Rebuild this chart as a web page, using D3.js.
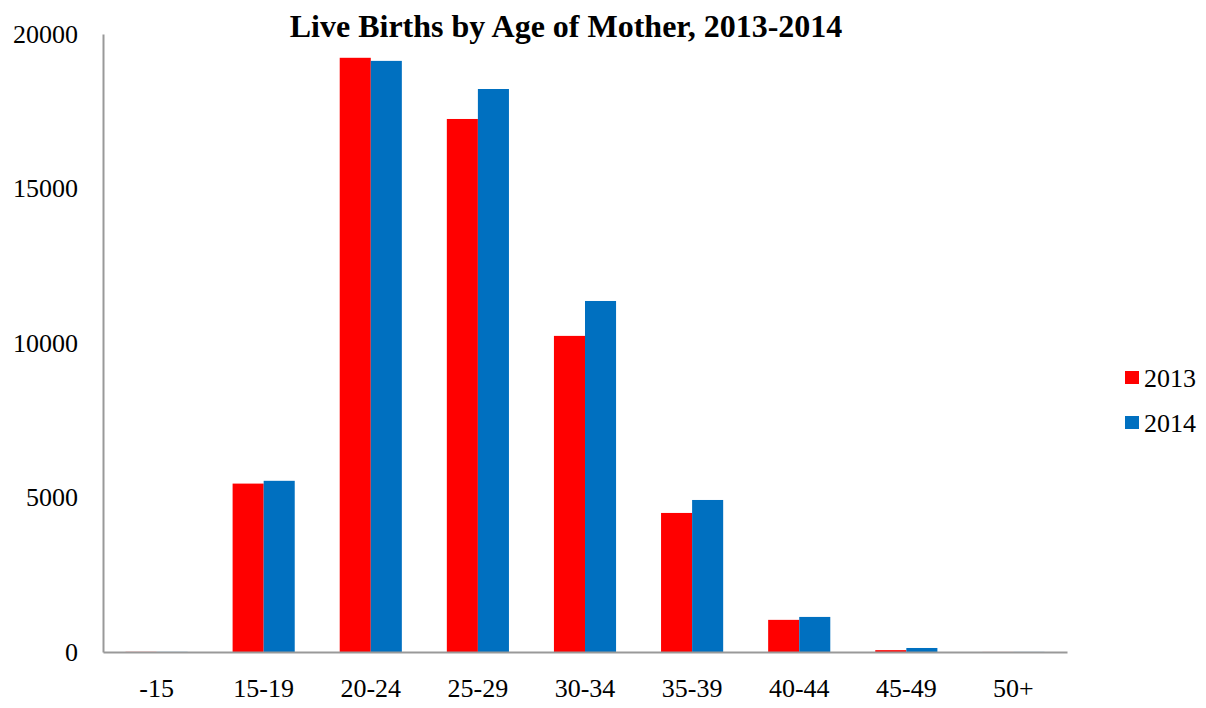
<!DOCTYPE html>
<html><head><meta charset="utf-8">
<script src="https://cdn.jsdelivr.net/npm/d3@7"></script>
<style>body{margin:0;background:#fff}svg{display:block}text{font-family:"Liberation Serif","Times New Roman",serif}</style>
</head><body>
<svg id="c" width="1206" height="708"></svg>
<script>
const categories = ["-15","15-19","20-24","25-29","30-34","35-39","40-44","45-49","50+"];
const series2013 = [5, 5450, 19230, 17250, 10230, 4500, 1040, 60, 2];
const series2014 = [4, 5540, 19130, 18220, 11360, 4920, 1135, 130, 3];
const seriesNames = ["2013","2014"];
const colors = ["#FF0000","#0070C0"];
const yTicks = [0, 5000, 10000, 15000, 20000];

const svg = d3.select("#c");
const mLeft = 103, mRight = 1067, mTop = 34, mBottom = 652;
const x = d3.scaleBand().domain(categories).range([mLeft, mRight]).paddingInner(0.42).paddingOuter(0.21);
const xs = d3.scaleBand().domain(seriesNames).range([0, x.bandwidth()]);
const y = d3.scaleLinear().domain([0, 20000]).range([mBottom, mTop]);

svg.append("text").attr("x", 566).attr("y", 37).attr("text-anchor","middle")
  .attr("font-size", 32).attr("font-weight","bold").text("Live Births by Age of Mother, 2013-2014");

const data = categories.map((c,i)=>({c, vals:[series2013[i], series2014[i]]}));
const g = svg.append("g");
data.forEach(d=>{
  d.vals.forEach((v,j)=>{
    g.append("rect").attr("x", x(d.c)+xs(seriesNames[j])).attr("width", xs.bandwidth())
      .attr("y", y(v)).attr("height", mBottom - y(v)).attr("fill", colors[j]);
  });
});

const ya = svg.append("g").attr("transform",`translate(${mLeft},0)`)
  .call(d3.axisLeft(y).tickValues(yTicks).tickSize(0).tickPadding(25).tickFormat(d3.format("d")));
ya.select(".domain").attr("stroke","#999").attr("stroke-width",2);
ya.selectAll("text").attr("font-size",26).attr("fill","#000").attr("font-family","Liberation Serif, serif");

const xa = svg.append("g").attr("transform",`translate(0,${mBottom})`)
  .call(d3.axisBottom(x).tickSize(0).tickPadding(27));
xa.select(".domain").attr("stroke","#999").attr("stroke-width",2);
xa.selectAll("text").attr("font-size",26).attr("fill","#000").attr("font-family","Liberation Serif, serif");

const lg = svg.append("g");
seriesNames.forEach((n,i)=>{
  const yy = 377 + i*45;
  lg.append("rect").attr("x",1125).attr("y",yy-6).attr("width",14).attr("height",13).attr("fill",colors[i]);
  lg.append("text").attr("x",1144).attr("y",yy+10).attr("font-size",26).text(n);
});
</script>
</body></html>
